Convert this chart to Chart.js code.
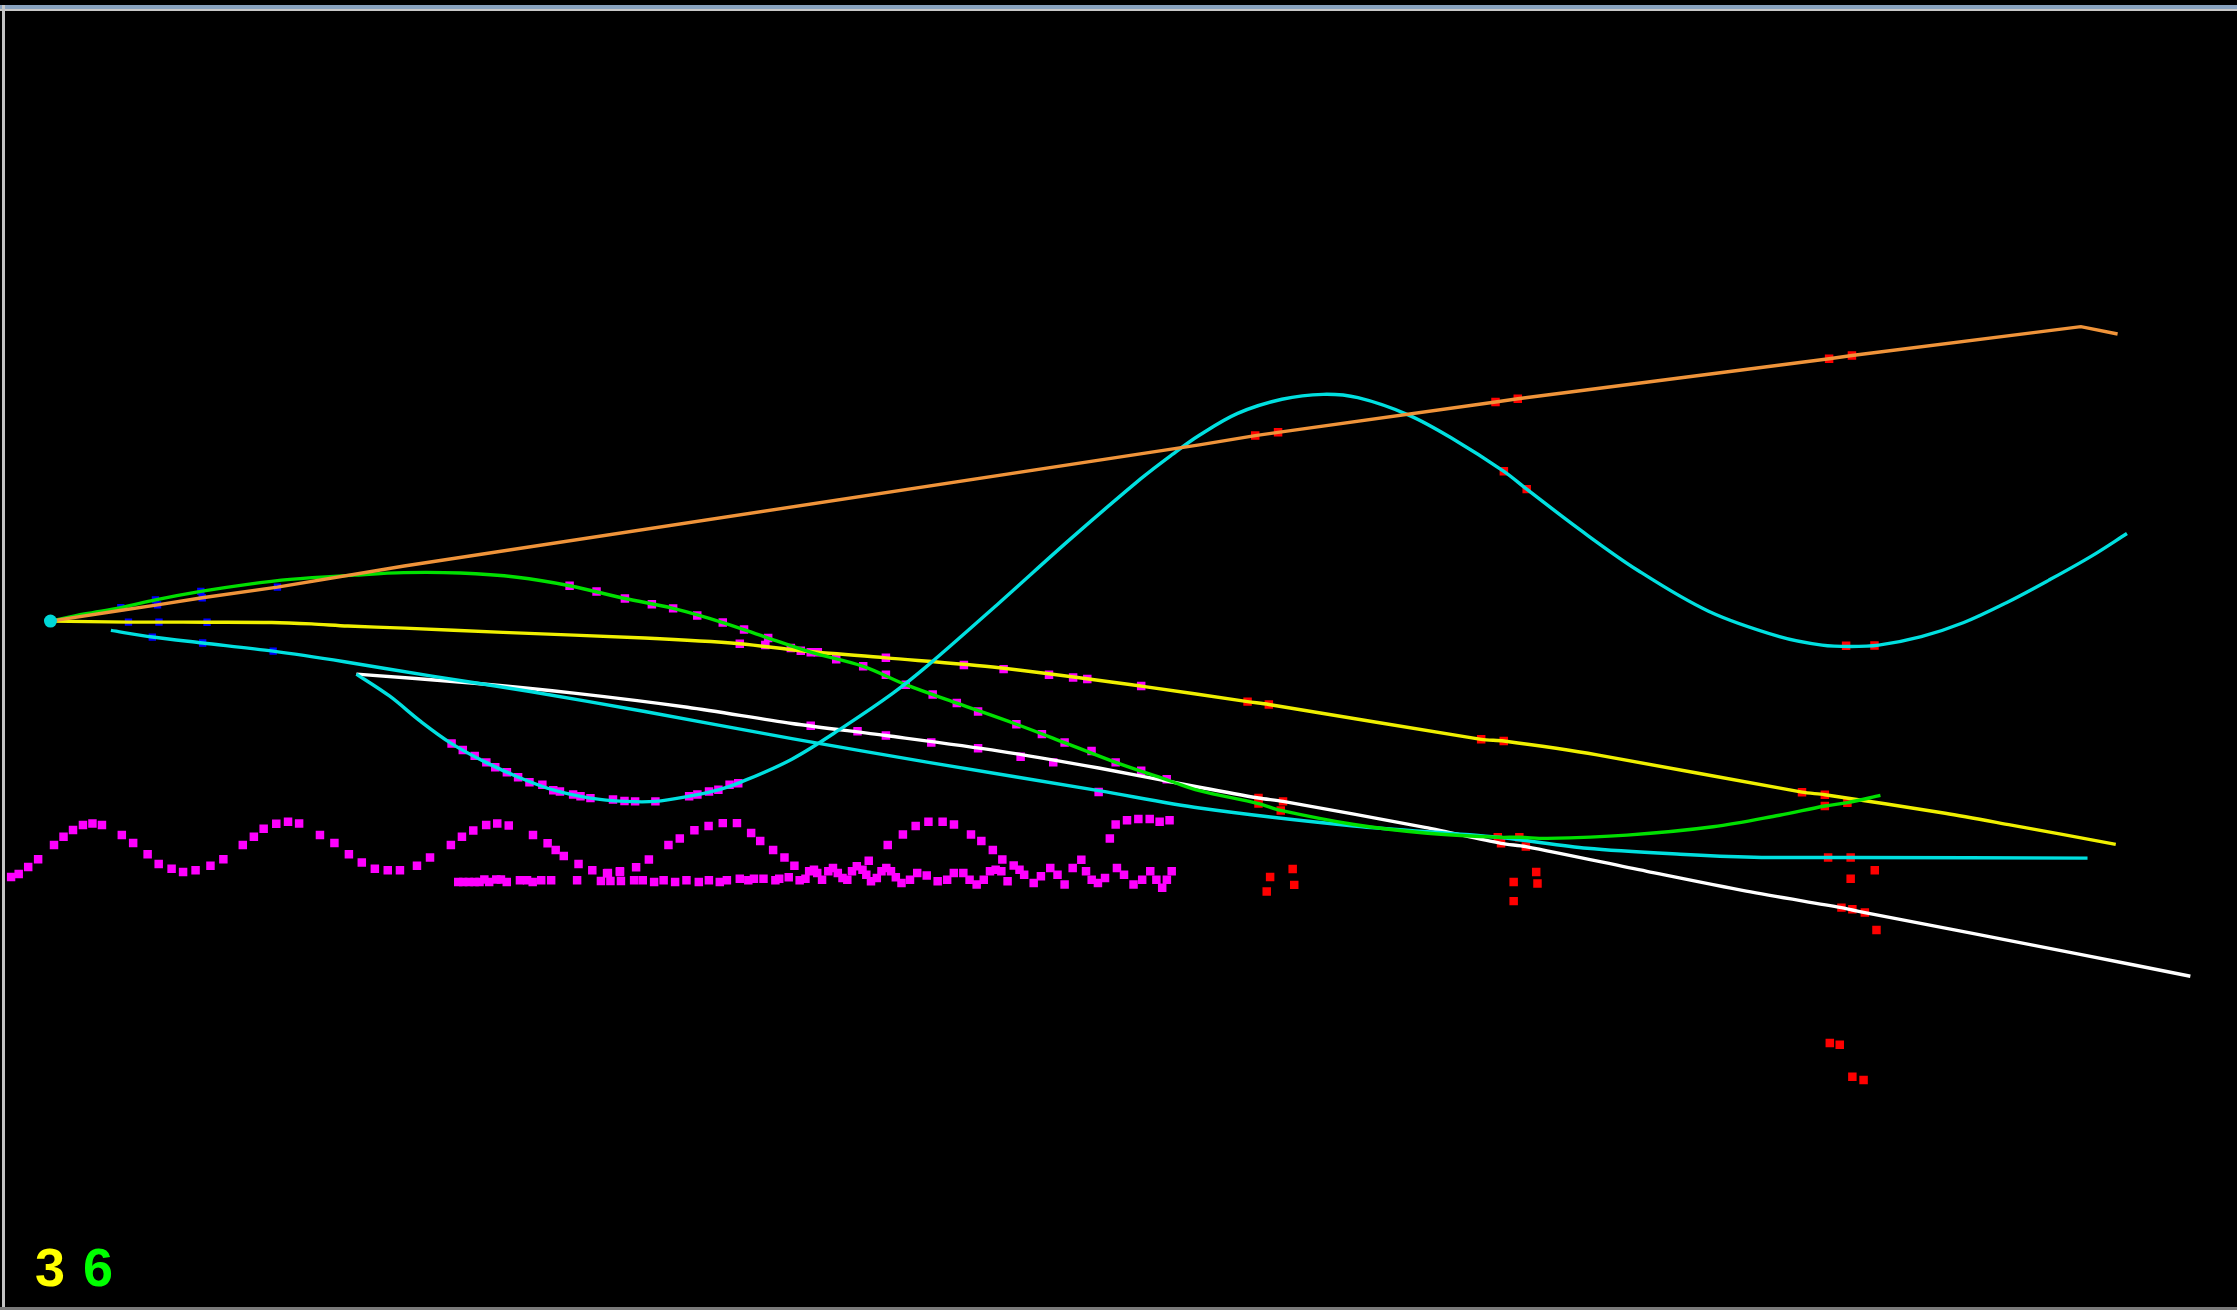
<!DOCTYPE html>
<html>
<head>
<meta charset="utf-8">
<script src="https://cdn.jsdelivr.net/npm/chart.js@4.4.1/dist/chart.umd.min.js"></script>
<style>
  html, body { margin: 0; padding: 0; background: #000; overflow: hidden; }
  #wrap { position: relative; width: 2237px; height: 1310px; background: #000; }
  #plot { position: absolute; left: 0; top: 0; }
  .band-top { position: absolute; left: 0; top: 5px; width: 2237px; height: 4px; background: #88a2bf; }
  .band-top2 { position: absolute; left: 0; top: 9px; width: 2237px; height: 2px; background: #c8c8c8; }
  .edge-left { position: absolute; left: 2px; top: 5px; width: 3px; height: 1305px; background: #c4c4c4; }
  .edge-bottom { position: absolute; left: 0; top: 1307px; width: 2237px; height: 3px; background: #7a7a7a; }
  .count { position: absolute; top: 1240px; font-family: "Liberation Sans", Arial, sans-serif; font-weight: bold; font-size: 54px; line-height: 54px; }
</style>
</head>
<body>
<div id="wrap">
  <canvas id="plot" width="2237" height="1310"></canvas>
  <div class="band-top"></div>
  <div class="band-top2"></div>
  <div class="edge-left"></div>
  <div class="edge-bottom"></div>
  <div class="count" style="left:35px; color:#ffff00;">3</div>
  <div class="count" style="left:83px; color:#00ff00;">6</div>
</div>
<script>
// World extent of the view (x to the right, y downward)
const worldX = [0, 1568];
const worldY = [0, 918];

// Origin body
const origin = [[31, 435]];

// Tracks
const orangeTrack = [[31,435],[80,427.5],[106.5,423.5],[138,418.5],[191,411],[280.4,396],[841,310.3],[880.4,303.7],[896.5,301.4],[1049.8,279.9],[1065.5,277.6],[1285,249.3],[1301.1,247],[1462.5,226.6],[1488.4,231.8]];

const cyanWave = [[246.7,472.5],[270,488],[292,506],[313.8,521.7],[338,535],[361,545.5],[386,554.7],[411.7,560.3],[436,562.6],[457.5,562.6],[481.3,558.9],[502,554.4],[516,549.7],[553.7,532.7],[590,510],[625,486],[650,466],[700,422],[750,377],[800,334],[822,317],[841,303.5],[868,288],[899.2,278],[928.3,274.5],[952.8,276.9],[988.6,289.2],[1019.9,306.1],[1055.7,329],[1071.8,341.6],[1109.3,370.3],[1150,399],[1200,428],[1250,446],[1280,452],[1300,453],[1320,452],[1350,446],[1380,436],[1410,422],[1440,406],[1470,389],[1495,373]];

const greenTrack = [[31,435],[55,430],[80.6,425.5],[105,420],[137,414],[170,409],[200,405.5],[245,402.5],[280,400.7],[320,401],[360,404],[397,410],[436,419],[470,426],[505,436],[537,447],[567,457],[604,467],[634,480],[670,493],[712,508],[746,521],[782,535],[820,548],[841,555],[882.7,564.2],[898.4,569],[950,579],[1000,585],[1051.4,588],[1066.6,588],[1086.4,588.8],[1142.5,586.5],[1203.2,580.6],[1250,572.4],[1282,565.9],[1297.9,563.5],[1321.2,558.4]];

const yellowTrack = [[31,435],[86,435.7],[107.5,435.7],[141.4,435.8],[187,436],[215,437],[240.6,438.5],[280.4,440],[350,443],[450,447],[517,451],[560,456],[620,461],[700,468],[800,481],[875,492],[890,494],[1039.7,518.7],[1055.6,519.9],[1121.5,529.7],[1265.9,556.1],[1282,557.9],[1366.8,571],[1413.5,579.4],[1487.1,593]];

const cyanTrail = [[73.6,441.6],[102.8,446.3],[138.3,450.5],[188,456.3],[238.3,463.8],[300,474],[369.2,484.8],[450,499],[553.7,518.2],[650,535],[770,555],[841,567.3],[950,580],[1051.4,588],[1114.5,595.8],[1180,600],[1232,602.1],[1284.3,602.3],[1300.2,602.3],[1467.2,602.8]];

const whiteTrack = [[246.7,472.5],[330,479],[400,486],[480,496],[553.7,507.5],[620,516],[700,527],[770,539],[841,552.6],[882.7,560.2],[900,562.6],[1000,581],[1053.7,592.3],[1071.2,594.6],[1156.5,612.1],[1226.6,626.1],[1293.7,637.8],[1301.4,639.5],[1310.2,641.3],[1460.2,670.5],[1539.7,686.4]];

// Blue samples near the origin
const blueSamples = [[80.6,425.5],[105,420],[137,414],[106.5,423.5],[138,418.5],[191,411],[86,435.7],[107.5,435.7],[141.4,435.8],[102.8,446.3],[138.3,450.5],[188,456.3]];

// Magenta samples on the tracks
const magentaOnTracks = [
  [313.8,521.7],[321.7,526.2],[330.1,530.4],[338.3,535.0],[344.6,538.5],[352.8,542.0],[360.7,545.5],[368.7,549.0],[377.8,550.9],[385.5,554.7],[390.2,555.6],[399.5,557.7],[404.7,558.9],[411.7,560.3],[427.6,561.2],[435.7,562.4],[443.2,562.6],[457.5,562.6],[481.3,558.9],[487.1,557.7],[495.3,555.6],[501.9,554.4],[509.8,550.9],[515.9,549.7],
  [397,410],[416,414],[436,419],[455,423],[470,426],[487,431],[505,436],[520,441],[537,447],[553,454],[567,457],[585,462],[604,467],[620,473],[634,480],[653,487],[670,493],[685,499],[712,508],[730,515],[746,521],[765,527],[782,535],[800,541],[818,547],
  [517,451],[535,452],[560,456],[572,457],[620,461],[675,466],[703,469],[735,473],[752,475],[762,476],[800,481],
  [567,509],[600,513],[620,516],[652,521],[685,525],[715,531],[738,535],
  [770,556]
];

// Magenta oscillating samples
const magentaWave = [[3.2,616.1],[8.6,614.0],[15.3,609.1],[22.3,603.5],[33.5,593.4],[40.2,587.6],[46.9,582.9],[53.9,579.4],[60.6,578.3],[67.3,579.4],[81.3,586.4],[89.3,592.0],[99.5,600.0],[107.3,607.0],[116.4,610.3],[124.5,612.6],[133.3,611.4],[143.8,608.2],[152.9,603.5],[166.6,593.5],[174.4,587.6],[181.3,582.0],[190.2,578.5],[198.5,577.1],[206.3,578.3],[221.0,586.4],[231.2,592.0],[241.4,600.0],[250.5,605.8],[259.7,610.3],[268.8,611.4],[277.4,611.4],[289.4,608.2],[298.6,602.3],[313.3,593.5],[321.1,587.6],[329.1,583.2],[338.2,579.4],[346.0,578.3],[354.1,579.7],[371.2,586.4],[381.5,592.3],[387.2,597.0],[392.9,601.2],[403.3,607.0],[413.0,611.4],[423.4,613.5],[432.5,612.6],[443.9,609.3],[452.9,603.7],[466.7,593.4],[474.7,588.8],[485,583],[495,580],[505,578],[515,578],[525,585],[531.4,590.6],[540.5,597.0],[548.5,602.3],[555.5,608.2],[607.9,604.7],[621.3,593.4],[632,586],[641,580],[650,577],[660,577],[668,579],[680,586],[687.3,590.6],[695.4,597.0],[702.1,603.7],[710.1,608.0],[777.9,588.8],[782,579],[790,576],[798,575],[806,575],[813,577],[820,576]];

const magentaBand = [[318.5,619.6],[322,619.6],[326,619.6],[330,619.6],[333.5,619.6],[336.9,617.9],[340.3,619.6],[345.3,617.9],[348.6,617.9],[352.7,619.6],[362,618.4],[367,618.4],[371,619.6],[377,618.4],[384,618.4],[402.3,618.4],[419.1,619],[424,613.3],[425.8,619],[432.5,612],[433.2,619],[442.5,618.4],[448.6,618.4],[456.6,619.6],[463.3,618.4],[471.4,619.6],[479.4,618.4],[488.1,619.6],[495.2,618.4],[502.9,619.6],[507.9,618.4],[517.0,617.3],[523.0,618.4],[527.0,617.3],[533.7,617.3],[542.1,618.4],[544.8,617.3],[551.5,616.3],[559.2,618.4],[563.3,617.3],[565.9,612.1],[569.3,611.0],[571.6,613.3],[575.0,618.0],[579.4,612.1],[582.7,609.8],[586.1,613.3],[589.4,616.8],[592.8,618.0],[596.1,612.1],[599.5,608.6],[603.5,611.0],[606.2,614.5],[609.5,619.1],[613.6,616.8],[616.9,612.1],[620.3,609.8],[623.6,612.1],[627.0,616.3],[631.0,620.3],[637.0,618.0],[642.1,613.3],[648.8,615.0],[656.5,619.1],[663.2,618.0],[667.9,613.3],[674.6,613.3],[679.0,618.0],[684.0,621.5],[689.0,618.0],[693.4,612.1],[697.4,611.0],[701.4,612.1],[705.8,619.1],[714.2,611.0],[717.5,614.5],[724.2,620.3],[729.3,615.6],[735.9,609.8],[741.0,614.5],[746.0,621.5],[751.7,609.8],[757.8,604.0],[761.1,612.1],[765.1,618.0],[769.5,620.3],[774.5,616.8],[782.9,609.8],[787.9,614.5],[794.6,621.5],[800.7,618.0],[806.4,612.1],[810.7,618.0],[814.8,623.8],[818.1,618.0],[821.5,612.1]];

// Red samples on the tracks
const redOnTracks = [
  [880.4,303.7],[896.5,301.4],[1049.8,279.9],[1065.5,277.6],[1285,249.3],[1301.1,247],
  [1055.7,329],[1071.8,341.6],[1297,452.5],[1317,452.3],
  [875,492],[890,494],[1039.7,518.7],[1055.6,519.9],[1265.9,556.1],[1282,557.9],
  [882.7,564.2],[898.4,569],[1051.4,588],[1066.6,588],[1282,565.9],[1297.9,563.5],
  [882.7,560.2],[900,562.6],[1053.7,592.3],[1071.2,594.6],[1293.7,637.8],[1301.4,639],[1310.2,641.3],
  [1284.3,602.3],[1300.2,602.3]
];

// Red samples off the tracks
const redLoose = [[890.9,616.1],[888.5,626.4],[906.8,610.5],[907.9,621.7],[1062.6,619.6],[1062.6,633.2],[1078.5,612.6],[1079.4,620.8],[1317.2,611.4],[1300.2,617.3],[1318.4,653.7],[1285.5,733.6],[1292.5,734.8],[1301.4,757.5],[1309.3,759.8]];

const toXY = arr => arr.map(([x, y]) => ({ x, y }));

function track(data, color, tension) {
  return { data: toXY(data), showLine: true, borderColor: color, borderWidth: 3.4,
           pointRadius: 0, tension: tension, fill: false, order: 1 };
}
function samples(data, color, radius) {
  return { data: toXY(data), showLine: false, pointStyle: 'rect', pointRadius: radius,
           backgroundColor: color, borderWidth: 0, order: 2 };
}

const datasets = [
  { data: toXY(origin), showLine: false, pointStyle: 'circle', pointRadius: 6.5,
    backgroundColor: '#00d8d8', borderWidth: 0, order: 0 },
  track(orangeTrack, '#f0943a', 0),
  track(cyanWave, '#00e0e0', 0.35),
  track(greenTrack, '#00e000', 0.35),
  track(yellowTrack, '#f0f000', 0.3),
  track(cyanTrail, '#00e0e0', 0.3),
  track(whiteTrack, '#ffffff', 0.3),
  samples(blueSamples, '#0000ff', 5.2),
  samples(magentaOnTracks, '#ff00ff', 6),
  samples(magentaWave, '#ff00ff', 6),
  samples(magentaBand, '#ff00ff', 6),
  samples(redOnTracks, '#ff0000', 6),
  samples(redLoose, '#ff0000', 6)
];

new Chart(document.getElementById('plot'), {
  type: 'scatter',
  data: { datasets },
  options: {
    responsive: false,
    animation: false,
    devicePixelRatio: 1,
    events: [],
    layout: { padding: 0 },
    plugins: { legend: { display: false }, tooltip: { enabled: false }, title: { display: false } },
    scales: {
      x: { type: 'linear', min: worldX[0], max: worldX[1], display: false },
      y: { type: 'linear', min: worldY[0], max: worldY[1], reverse: true, display: false }
    }
  }
});
</script>
</body>
</html>
